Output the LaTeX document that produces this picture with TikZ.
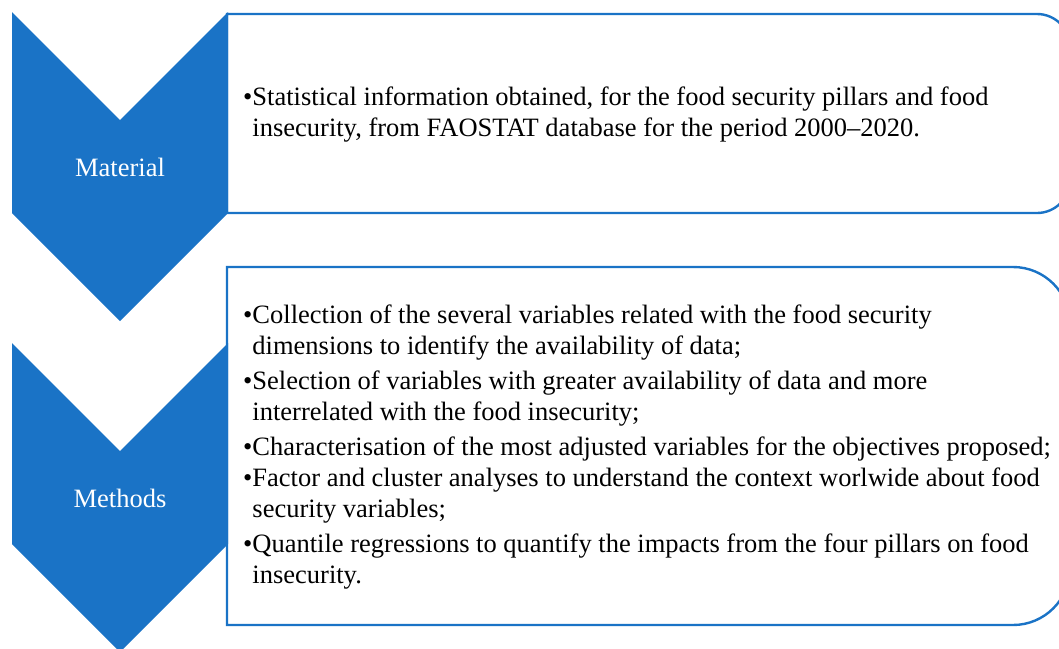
\documentclass[tikz,border=0pt]{standalone}
\usepackage{fontspec}
\setmainfont{Liberation Serif}
\definecolor{smartblue}{RGB}{26,115,198}
\tikzset{
  chevron/.style={fill=smartblue},
  panel/.style={draw=smartblue,line width=2.4pt,fill=white},
  steplabel/.style={text=white,font=\fontsize{26.5}{30}\selectfont},
  bullets/.style={anchor=west,align=left,inner sep=0pt,font=\fontsize{26.5}{31}\selectfont}
}
\begin{document}
\begin{tikzpicture}[x=1pt,y=-1pt]
  \clip (0,0) rectangle (1059,648);
  % panels
  \draw[panel] (227,14) -- (1037,14) arc(270:360:33) -- (1070,180) arc(0:90:33) -- (227,213) -- cycle;
  \draw[panel] (227,267) -- (1013,267) arc(270:360:57) -- (1070,568) arc(0:90:57) -- (227,625) -- cycle;
  % chevrons
  \fill[chevron] (12,12) -- (120,120) -- (228,12) -- (228,213) -- (120,321) -- (12,213) -- cycle;
  \begin{scope}[shift={(0,331)}]
    \fill[chevron] (12,12) -- (120,120) -- (228,12) -- (228,213) -- (120,321) -- (12,213) -- cycle;
  \end{scope}
  \node[steplabel] (material) at (120,167) {Material};
  \node[steplabel] (methods) at (120,498) {Methods};
  % texts
  \node[bullets] (materialtext) at (243,115) {\textbullet{}Statistical information obtained, for the food security pillars and food\\
    \phantom{\textbullet}insecurity, from FAOSTAT database for the period 2000--2020.};
  \node[bullets] (methodstext) at (243,447) {\textbullet{}Collection of the several variables related with the food security\\
    \phantom{\textbullet}dimensions to identify the availability of data;\\[4pt]
    \textbullet{}Selection of variables with greater availability of data and more\\
    \phantom{\textbullet}interrelated with the food insecurity;\\[4pt]
    \textbullet{}Characterisation of the most adjusted variables for the objectives proposed;\\
    \textbullet{}Factor and cluster analyses to understand the context worlwide about food\\
    \phantom{\textbullet}security variables;\\[4pt]
    \textbullet{}Quantile regressions to quantify the impacts from the four pillars on food\\
    \phantom{\textbullet}insecurity.};
\end{tikzpicture}
\end{document}
